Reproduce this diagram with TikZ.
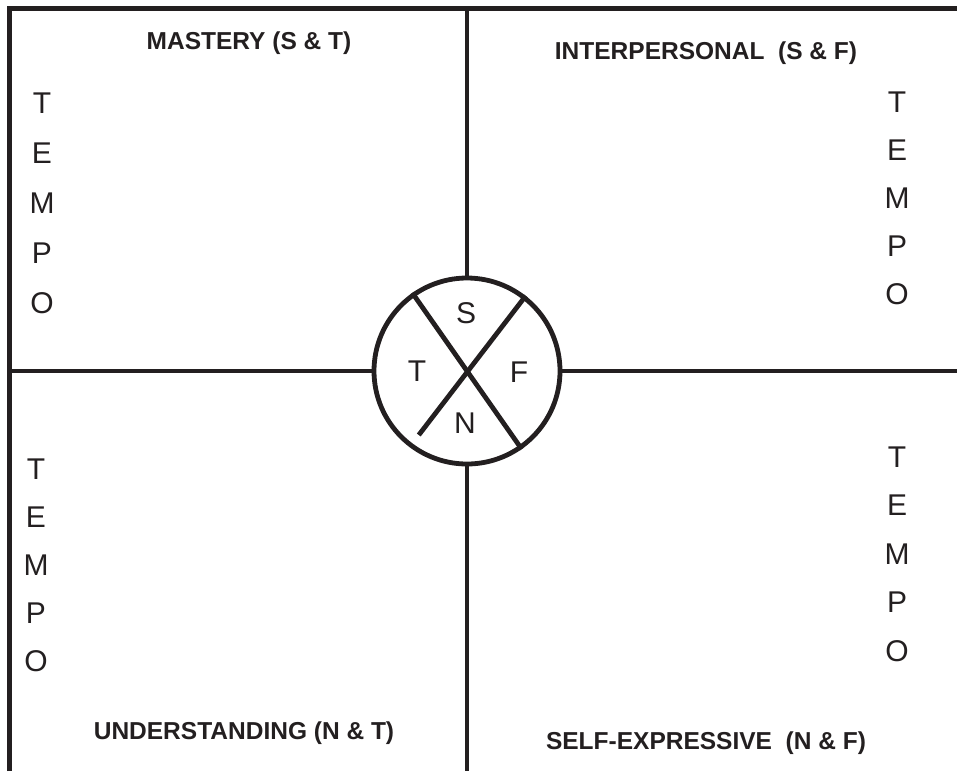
\documentclass[tikz,border=0pt]{standalone}
\usepackage{fontspec}
\setmainfont{Liberation Sans}
\usepackage{xcolor}
\usepackage{tikz}
\usetikzlibrary{calc}

\definecolor{ink}{HTML}{231F20}

\begin{document}
\begin{tikzpicture}[
  x=1pt, y=-1pt,
  rule/.style={draw=ink, line width=4.8pt},
  heading/.style={anchor=base, inner sep=0pt, text=ink, font=\fontsize{24.5}{28}\selectfont\bfseries},
  letter/.style={inner sep=0pt, text=ink, font=\fontsize{30}{33}\selectfont},
  wheelnode/.style={circle, draw=ink, line width=4.8pt, minimum size=186pt, inner sep=0pt}
]
\useasboundingbox (0,0) rectangle (957,771);

% frame corners and line ends
\coordinate (frameTL) at (9.5,8.5);
\coordinate (frameTR) at (957,8.5);
\coordinate (frameBL) at (9.5,771);
\coordinate (topmid) at (467,8.5);
\coordinate (botmid) at (467,771);
\coordinate (leftmid) at (9.5,371);
\coordinate (rightmid) at (957,371);

\draw[rule, line join=miter] (frameBL) -- (frameTL) -- (frameTR);

% centre wheel
\node[wheelnode] (wheel) at (467,371) {};
\draw[rule] (wheel) -- (topmid);
\draw[rule] (wheel) -- (botmid);
\draw[rule] (wheel) -- (leftmid);
\draw[rule] (wheel) -- (rightmid);
\draw[rule] (wheel.125) -- (wheel.-55);
\draw[rule] (wheel.52) -- ($(wheel.center)!0.84!(wheel.-127)$);

\node[letter] (wS) at (466,313) {S};
\node[letter] (wT) at (417,371) {T};
\node[letter] (wF) at (519,372) {F};
\node[letter] (wN) at (465,423) {N};

% quadrant headings
\node[heading] (mastery) at (249,49) {MASTERY (S \& T)};
\node[heading] (interp) at (706,59) {INTERPERSONAL\ \ (S \& F)};
\node[heading] (underst) at (244,739) {UNDERSTANDING (N \& T)};
\node[heading] (selfexp) at (706,749) {SELF-EXPRESSIVE\ \ (N \& F)};

% tempo columns
\foreach \cx/\cy/\dy [count=\k] in {42/103/50, 897/102/48, 36/469/48, 897/457/48.5} {
  \foreach \ch [count=\i from 0] in {T,E,M,P,O} {
    \node[letter] (tempo\k-\i) at (\cx,{\cy+\dy*\i}) {\ch};
  }
}
\end{tikzpicture}
\end{document}
